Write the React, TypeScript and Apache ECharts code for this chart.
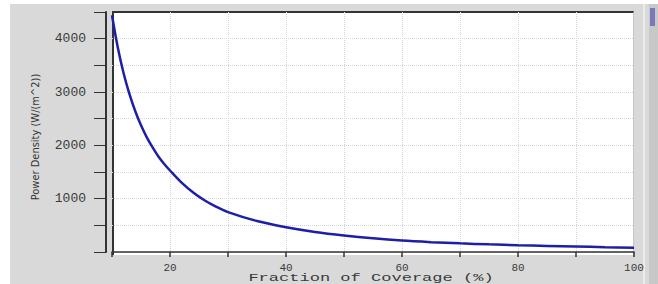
import React, { useEffect, useRef } from "react";
import * as echarts from "echarts";

const coverage = [10, 11, 12, 13, 14, 15, 16, 17, 18, 19, 20, 22, 24, 26, 28, 30, 35, 40, 45, 50, 55, 60, 65, 70, 75, 80, 85, 90, 95, 100];
const powerDensity = [4440, 3834, 3352, 2964, 2644, 2375, 2150, 1960, 1790, 1650, 1528, 1300, 1115, 966, 847, 748, 580, 465, 377, 310, 256, 214, 185, 162, 143, 127, 114, 102, 91, 81];
const xLabels = [20, 40, 60, 80, 100];
const yLabels = [1000, 2000, 3000, 4000];
const xTitle = "Fraction of Coverage (%)";
const yTitle = "Power Density (W/(m^2))";

const mono = "'Liberation Mono', 'DejaVu Sans Mono', monospace";

export default function App() {
  const ref = useRef<HTMLDivElement>(null);
  useEffect(() => {
    if (!ref.current) return;
    const chart = echarts.init(ref.current, null, { renderer: "svg" });
    chart.setOption({
      animation: false,
      grid: { left: 112, top: 12, right: 24, bottom: 32, show: false, containLabel: false, outerBoundsMode: "none" },
      graphic: [
        {
          type: "text",
          x: 371,
          y: 278,
          scaleX: 1.55,
          style: {
            text: xTitle,
            fontFamily: mono,
            fontSize: 11,
            fill: "#3a3a3a",
            textAlign: "center",
            textVerticalAlign: "middle",
          },
        },
        {
          type: "text",
          x: 35,
          y: 137,
          rotation: Math.PI / 2,
          style: {
            text: yTitle,
            fontFamily: "'DejaVu Sans Condensed', 'Liberation Sans Narrow', 'DejaVu Sans', sans-serif",
            fontSize: 11,
            fill: "#333",
            textAlign: "center",
            textVerticalAlign: "middle",
          },
        },
      ],
      xAxis: {
        type: "value",
        min: 10,
        max: 100,
        interval: 10,
        offset: 6,
        axisLine: { show: true, lineStyle: { color: "#333", width: 1.5 } },
        axisTick: { show: true, length: 5, lineStyle: { color: "#333", width: 1.5 } },
        axisLabel: {
          margin: 4,
          fontFamily: mono,
          fontSize: 11,
          color: "#3a3a3a",
          formatter: (v: number) => (xLabels.includes(v) ? String(v) : ""),
        },
        splitLine: { show: true, showMinLine: false, lineStyle: { color: "#d6d6d6", type: "dotted", width: 1 } },
      },
      yAxis: {
        type: "value",
        min: 0,
        max: 4500,
        interval: 500,
        offset: 6,
        axisLine: { show: true, lineStyle: { color: "#333", width: 2 } },
        axisTick: { show: true, length: 12, lineStyle: { color: "#333", width: 1 } },
        axisLabel: {
          margin: 20,
          fontFamily: mono,
          fontSize: 13,
          color: "#3a3a3a",
          formatter: (v: number) => (yLabels.includes(v) ? String(v) : ""),
        },
        splitLine: { show: true, showMaxLine: false, lineStyle: { color: "#d6d6d6", type: "dotted", width: 1 } },
      },
      series: [
        {
          type: "line",
          data: coverage.map((c, i) => [c, powerDensity[i]]),
          smooth: 0.3,
          showSymbol: false,
          lineStyle: { color: "#1e1ea6", width: 2.5 },
          clip: true,
        },
      ],
    });
    return () => chart.dispose();
  }, []);

  return (
    <div style={{ position: "fixed", left: 0, top: 0, width: 658, height: 284, background: "#fff", overflow: "hidden" }}>
      <div style={{ position: "absolute", left: 10, top: 4, width: 648, height: 280, background: "#d9d9d9" }} />
      <div style={{ position: "absolute", left: 643, top: 4, width: 2, height: 280, background: "#ececec" }} />
      <div style={{ position: "absolute", left: 649, top: 4, width: 9, height: 280, background: "#c8c8c8" }} />
      <div style={{ position: "absolute", left: 650, top: 8, width: 5, height: 18, background: "#7a78b8" }} />
      <div
        style={{
          position: "absolute",
          left: 112,
          top: 11,
          width: 522,
          height: 244,
          background: "#fff",
          borderTop: "2px solid #333",
          borderLeft: "2px solid #333",
          borderRight: "1px solid #c8c8c8",
          boxSizing: "border-box",
        }}
      />
      <div ref={ref} style={{ position: "absolute", left: 0, top: 0, width: 658, height: 284 }} />
    </div>
  );
}
